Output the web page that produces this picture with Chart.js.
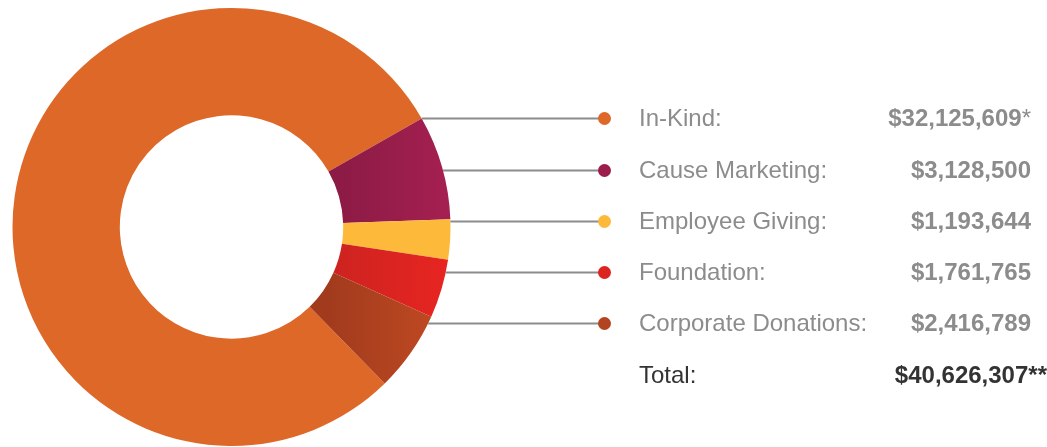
<!DOCTYPE html>
<html>
<head>
<meta charset="utf-8">
<script src="https://cdn.jsdelivr.net/npm/chart.js@4.4.0/dist/chart.umd.min.js"></script>
<style>
  html, body { margin: 0; padding: 0; background: #ffffff; }
  #wrap { position: relative; width: 1047px; height: 447px; overflow: hidden; }
  #c { position: absolute; left: 0; top: 0; }
  .row { position: absolute; left: 0; width: 1047px; height: 30px; font-family: "Liberation Sans", Arial, sans-serif; font-size: 24px; line-height: 30px; }
  .lab { position: absolute; left: 639px; color: #8c8c8c; white-space: nowrap; }
  .val { position: absolute; right: 16px; color: #8c8c8c; font-weight: bold; font-size: 24px; white-space: nowrap; }
  .val .ast { font-weight: normal; }
  .row.total .lab { color: #333333; }
  .row.total .val { color: #333333; right: 0px; }
</style>
</head>
<body>
<div id="wrap">
  <canvas id="c" width="1047" height="447"></canvas>
</div>
<script>
const categories = ["In-Kind", "Cause Marketing", "Employee Giving", "Foundation", "Corporate Donations"];
const values = [32125609, 3128500, 1193644, 1761765, 2416789];
const valueLabels = ["$32,125,609", "$3,128,500", "$1,193,644", "$1,761,765", "$2,416,789"];
const valueNotes = ["*", "", "", "", ""];
const totalLabel = "Total:";
const totalValue = "$40,626,307";
const totalNote = "**";
const colors = ["#de6828", "#9a1d4c", "#fdb93a", "#dc2421", "#b34420"];
const gradStops = [null, ["#8a1a44", "#a52051"], null, ["#cc2320", "#e82521"], ["#a23b1d", "#c24b23"]];
const rowY = [118, 170, 221, 272, 323, 375];

const wrap = document.getElementById('wrap');
function addRow(label, value, note, y, cls) {
  const r = document.createElement('div');
  r.className = 'row' + (cls ? ' ' + cls : '');
  r.style.top = (y - 15) + 'px';
  const l = document.createElement('span'); l.className = 'lab'; l.textContent = label;
  const v = document.createElement('span'); v.className = 'val'; v.textContent = value;
  if (note) { const a = document.createElement('span'); a.className = 'ast'; a.textContent = note; v.appendChild(a); }
  r.appendChild(l); r.appendChild(v); wrap.appendChild(r);
}
categories.forEach((c, i) => addRow(c + ":", valueLabels[i], valueNotes[i], rowY[i]));
addRow(totalLabel, totalValue, totalNote, rowY[5], 'total');
document.querySelector('.row.total .val .ast').style.fontWeight = 'bold';

const connectors = {
  id: 'connectors',
  afterDatasetsDraw(chart) {
    const meta = chart.getDatasetMeta(0);
    const arc = meta.data[0];
    const cx = arc.x, cy = arc.y, R = arc.outerRadius;
    const ctx = chart.ctx;
    ctx.save();
    categories.forEach((c, i) => {
      const y = rowY[i] + 0.5;
      const dy = y - cy;
      const x0 = cx + Math.sqrt(Math.max(0, R * R - dy * dy));
      ctx.strokeStyle = '#8c8c8c';
      ctx.lineWidth = 2;
      ctx.beginPath(); ctx.moveTo(x0, y); ctx.lineTo(604, y); ctx.stroke();
      ctx.fillStyle = colors[i];
      ctx.beginPath(); ctx.arc(604.5, y, 6.5, 0, Math.PI * 2); ctx.fill();
    });
    ctx.restore();
  }
};

new Chart(document.getElementById('c'), {
  type: 'doughnut',
  data: {
    labels: categories,
    datasets: [{
      data: values,
      borderWidth: 0,
      backgroundColor: (ctx) => {
        const i = ctx.dataIndex;
        const g = gradStops[i];
        const area = ctx.chart.chartArea;
        if (!g || !area) return colors[i];
        const cx = (area.left + area.right) / 2;
        const R = (area.bottom - area.top) / 2;
        const grad = ctx.chart.ctx.createLinearGradient(cx + R * 0.45, 0, cx + R, 0);
        grad.addColorStop(0, g[0]); grad.addColorStop(1, g[1]);
        return grad;
      }
    }]
  },
  options: {
    responsive: false,
    animation: false,
    rotation: 135.6,
    cutout: '51%',
    layout: { padding: { left: 12.5, top: 8, bottom: 1, right: 596.5 } },
    plugins: { legend: { display: false }, tooltip: { enabled: false } }
  },
  plugins: [connectors]
});
</script>
</body>
</html>
